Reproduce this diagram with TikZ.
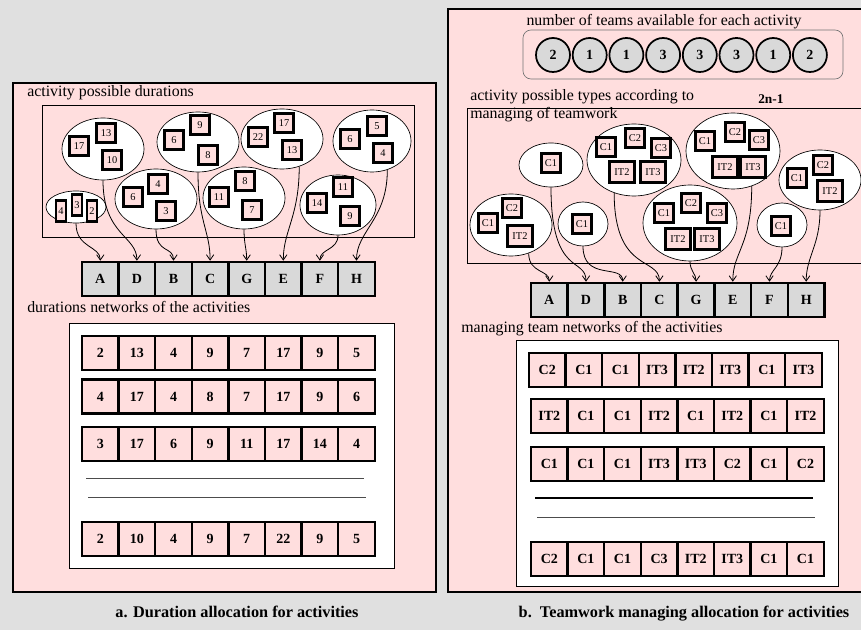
\documentclass[tikz,border=0pt]{standalone}
\usepackage{fontspec}
\setmainfont{Liberation Serif}
\usetikzlibrary{shapes.geometric,arrows.meta}
\definecolor{pinkbg}{RGB}{255,222,222}
\definecolor{bggray}{RGB}{224,224,224}
\definecolor{boxgray}{RGB}{217,217,217}
\newcommand{\cellrow}[4]{%
  \foreach \vv [count=\cc from 0] in {#4} {\node[cellbox] (#1\cc) at ({#2+36.6*\cc},#3) {\vv};}}
\begin{document}
\begin{tikzpicture}[x=0.75pt,y=-0.75pt,
  panel/.style={draw=black,line width=1.7pt,fill=pinkbg},
  frame/.style={draw=black,line width=0.6pt},
  ell/.style 2 args={ellipse,draw=black,line width=0.5pt,fill=white,inner sep=0pt,minimum width=#1*1.5pt,minimum height=#2*1.5pt},
  sq/.style={draw=black,line width=1.9pt,fill=pinkbg,minimum width=14.5pt,minimum height=14.5pt,inner sep=0pt,font=\fontsize{7.8}{8}\selectfont},
  sqn/.style={sq,minimum width=7.5pt,minimum height=16pt},
  sqw/.style={sq,minimum width=19pt,minimum height=16pt},
  act/.style={draw=black,line width=1.9pt,fill=boxgray,minimum width=27.45pt,minimum height=25.5pt,inner sep=0pt,font=\fontsize{10.5}{12}\selectfont\bfseries},
  cellbox/.style={draw=black,line width=1.9pt,fill=pinkbg,minimum width=27.45pt,minimum height=25.5pt,inner sep=0pt,font=\fontsize{10.5}{12}\selectfont\bfseries},
  circ/.style={circle,draw=black,line width=1.3pt,fill=boxgray,minimum size=25.5pt,inner sep=0pt,font=\fontsize{10.5}{12}\selectfont\bfseries},
  lbl/.style={anchor=base west,inner sep=0pt,font=\fontsize{11.9}{14}\selectfont},
  captxt/.style={anchor=base,inner sep=0pt,font=\fontsize{12.2}{14}\selectfont\bfseries},
  arr/.style={-{Straight Barb[length=4pt,width=5.5pt]},line width=0.6pt},
]
\useasboundingbox (0,0) rectangle (861,630);
\clip (0,0) rectangle (861,630);
\fill[bggray] (0,0) rectangle (861,630);

% ================= LEFT PANEL =================
\draw[panel] (13,83) rectangle (436,592);
\node[lbl] (t1) at (27,97) {activity possible durations};
\draw[frame,fill=pinkbg] (42,105) rectangle (414,237);

\node[ell={41}{31}] (e1) at (103,149) {};
\node[ell={30}{16}] (e2) at (76,207) {};
\node[ell={41}{30}] (e3) at (198,142) {};
\node[ell={41}{30}] (e4) at (156,199) {};
\node[ell={41}{30}] (e5) at (282,139) {};
\node[ell={41}{31}] (e6) at (244,198) {};
\node[ell={39}{31}] (e7) at (372,141) {};
\node[ell={38}{30}] (e8) at (338,205) {};

\node[sq] (e1a) at (79,146) {17};
\node[sq] (e1b) at (106,133) {13};
\node[sq] (e1c) at (112,160) {10};
\node[sqn] (e2a) at (61,211) {4};
\node[sqn] (e2b) at (77,205) {3};
\node[sqn] (e2c) at (92,211) {2};
\node[sq] (e3a) at (174,140) {6};
\node[sq] (e3b) at (200,125) {9};
\node[sq] (e3c) at (208,155) {8};
\node[sq] (e4a) at (133,197) {6};
\node[sq] (e4b) at (158,184) {4};
\node[sq] (e4c) at (166,211) {3};
\node[sq] (e5a) at (258,137) {22};
\node[sq] (e5b) at (284,123) {17};
\node[sq] (e5c) at (292,150) {13};
\node[sq] (e6a) at (219,197) {11};
\node[sq] (e6b) at (245,181) {8};
\node[sq] (e6c) at (252,210) {7};
\node[sq] (e7a) at (350,139) {6};
\node[sq] (e7b) at (377,126) {5};
\node[sq] (e7c) at (383,153) {4};
\node[sq] (e8a) at (317,203) {14};
\node[sq] (e8b) at (343,187) {11};
\node[sq] (e8c) at (350,216) {9};

\foreach \l [count=\ii from 0] in {A,D,B,C,G,E,F,H}
  \node[act] (la\l) at ({100.3+36.6*\ii},279) {\l};

\draw[arr] (e2.south) .. controls +(0,25) and +(0,-15) .. (laA.north);
\draw[arr] (e1.south) .. controls +(0,55) and +(0,-25) .. (laD.north);
\draw[arr] (e4.south) .. controls +(0,25) and +(0,-15) .. (laB.north);
\draw[arr] (e3.south) .. controls +(0,50) and +(0,-30) .. (laC.north);
\draw[arr] (e6.south) .. controls +(0,15) and +(0,-12) .. (laG.north);
\draw[arr] (e5.-58) .. controls +(0,50) and +(0,-30) .. (laE.north);
\draw[arr] (e8.south) .. controls +(0,15) and +(0,-12) .. (laF.north);
\draw[arr] (e7.-62) .. controls +(0,50) and +(0,-30) .. (laH.north);

\node[lbl] (t2) at (27,313) {durations networks of the activities};
\draw[frame,fill=white] (69,323) rectangle (394,568);
\cellrow{La}{100.3}{353}{2,13,4,9,7,17,9,5}
\cellrow{Lb}{100.3}{396.5}{4,17,4,8,7,17,9,6}
\cellrow{Lc}{100.3}{444}{3,17,6,9,11,17,14,4}
\cellrow{Ld}{100.3}{539}{2,10,4,9,7,22,9,5}
\draw[black!70,line width=0.4pt] (86,478) -- (364,478);
\draw[black!70,line width=0.4pt] (88,497) -- (366,497);

\node[captxt] (ca) at (237,618) {a. Duration allocation for activities};

% ================= RIGHT PANEL =================
\draw[panel] (448,9) rectangle (870,592);
\node[anchor=base,inner sep=0pt,font=\fontsize{11.9}{14}\selectfont] (t3) at (664,26) {number of teams available for each activity};
\draw[black!55,line width=0.5pt,rounded corners=6pt] (523,30) rectangle (843,79);
\foreach \v [count=\ii from 0] in {2,1,1,3,3,3,1,2}
  \node[circ] (n\ii) at ({553+36.7*\ii},55) {\v};

\node[lbl] (t4) at (470,101) {activity possible types according to};
\node[anchor=base west,inner sep=0pt,font=\fontsize{10}{12}\selectfont\bfseries] (t5) at (758,104) {2n-1};
\draw[frame,fill=pinkbg] (467,108) rectangle (875,263);
\node[lbl] (t6) at (470,119) {managing of teamwork};

\node[ell={32}{22}] (r1) at (551,165) {};
\node[ell={41}{31}] (r2) at (511,225) {};
\node[ell={25}{22}] (r3) at (583,224) {};
\node[ell={47}{36}] (r4) at (634,160) {};
\node[ell={47}{38}] (r5) at (733,151) {};
\node[ell={47}{38}] (r6) at (690,223) {};
\node[ell={25}{22}] (r7) at (782,225) {};
\node[ell={41}{30}] (r8) at (820,180) {};

\node[sq] (r1a) at (551,163) {C1};
\node[sq] (r2a) at (488,223) {C1};
\node[sq] (r2b) at (512,208) {C2};
\node[sqw] (r2c) at (520,236) {IT2};
\node[sq] (r3a) at (582,224) {C1};
\node[sq] (r4a) at (606,147) {C1};
\node[sq] (r4b) at (635,138) {C2};
\node[sq] (r4c) at (661,148) {C3};
\node[sqw] (r4d) at (622,172) {IT2};
\node[sqw] (r4e) at (653,172) {IT3};
\node[sq] (r5a) at (705,141) {C1};
\node[sq] (r5b) at (735,132) {C2};
\node[sq] (r5c) at (759,140) {C3};
\node[sqw] (r5d) at (725,167) {IT2};
\node[sqw] (r5e) at (753,167) {IT3};
\node[sq] (r6a) at (664,213) {C1};
\node[sq] (r6b) at (691,203) {C2};
\node[sq] (r6c) at (717,213) {C3};
\node[sqw] (r6d) at (678,239) {IT2};
\node[sqw] (r6e) at (707,239) {IT3};
\node[sq] (r7a) at (781,226) {C1};
\node[sq] (r8a) at (797,178) {C1};
\node[sq] (r8b) at (823,165) {C2};
\node[sqw] (r8c) at (830,191) {IT2};

\foreach \l [count=\ii from 0] in {A,D,B,C,G,E,F,H}
  \node[act] (ra\l) at ({549.3+36.7*\ii},300) {\l};

\draw[arr] (r2.-58) .. controls +(0,20) and +(0,-12) .. (raA.north);
\draw[arr] (r1.south) .. controls +(0,90) and +(0,-25) .. (raD.north);
\draw[arr] (r3.south) .. controls +(0,35) and +(0,-18) .. (raB.north);
\draw[arr] (r4.-121) .. controls +(0,80) and +(0,-25) .. (raC.north);
\draw[arr] (r6.south) .. controls +(0,10) and +(0,-8) .. (raG.north);
\draw[arr] (r5.-62) .. controls +(0,60) and +(0,-30) .. (raE.north);
\draw[arr] (r7.south) .. controls +(0,20) and +(0,-12) .. (raF.north);
\draw[arr] (r8.south) .. controls +(0,35) and +(0,-25) .. (raH.north);

\node[lbl] (t7) at (461,333) {managing team networks of the activities};
\draw[frame,fill=white] (516,340) rectangle (838,586);
\cellrow{Ra}{547.3}{370}{C2,C1,C1,IT3,IT2,IT3,C1,IT3}
\cellrow{Rb}{549.3}{416}{IT2,C1,C1,IT2,C1,IT2,C1,IT2}
\cellrow{Rc}{549.3}{464}{C1,C1,C1,IT3,IT3,C2,C1,C2}
\cellrow{Rd}{549.3}{559}{C2,C1,C1,C3,IT2,IT3,C1,C1}
\draw[black,line width=1pt] (535,498) -- (813,498);
\draw[black!70,line width=0.4pt] (537,517) -- (815,517);

\node[captxt] (cb) at (684,618) {b.\ \ Teamwork managing allocation for activities};
\end{tikzpicture}
\end{document}
